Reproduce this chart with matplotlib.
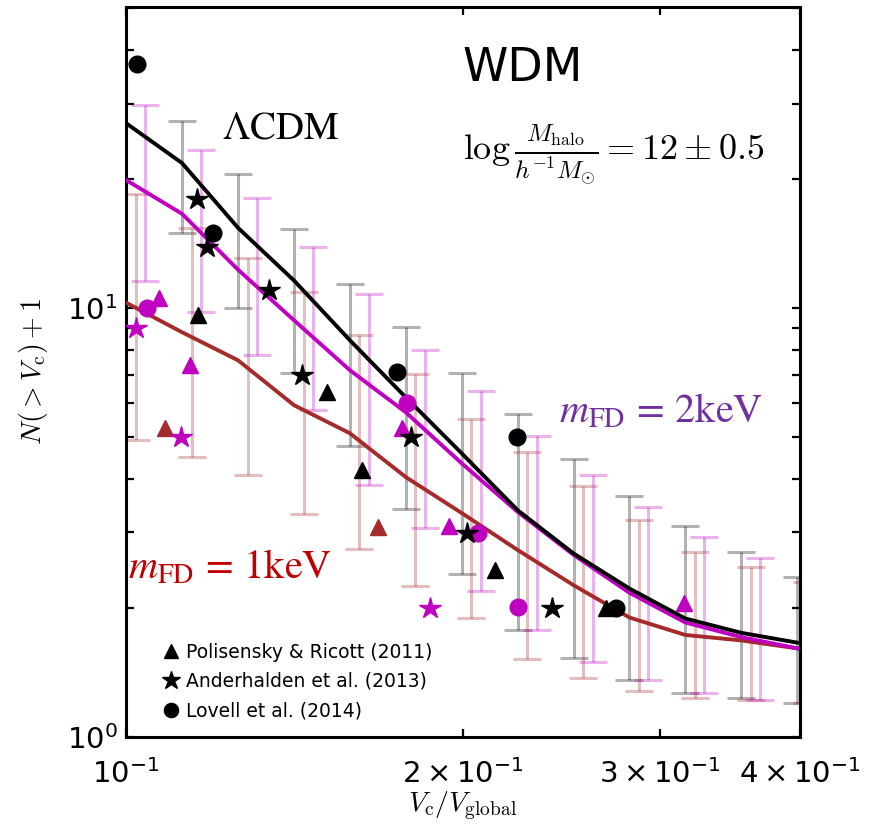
import numpy as np
import matplotlib
matplotlib.use('Agg')
import matplotlib.pyplot as plt
from matplotlib.ticker import FixedLocator, NullLocator, LogLocator, LogFormatterSciNotation

# bin centres in V_c / V_global (0.05 dex spacing)
vbins = [0.1, 0.1122, 0.1259, 0.1413, 0.1585, 0.1778, 0.1995,
         0.2239, 0.2512, 0.2818, 0.3162, 0.3548, 0.3981]

# median cumulative counts N(>V_c)+1
n_lcdm = [27.0, 21.8, 15.4, 11.6, 8.42, 6.2, 4.59, 3.38, 2.68, 2.22, 1.89, 1.75, 1.66]
n_2kev = [19.9, 16.6, 12.3, 9.37, 7.17, 5.72, 4.35, 3.35, 2.66, 2.17, 1.85, 1.71, 1.61]
n_1kev = [10.3, 8.79, 7.56, 5.94, 5.11, 4.04, 3.33, 2.73, 2.26, 1.90, 1.73, 1.68, 1.61]

# scatter ranges (upper, lower) per bin
lcdm_hi = [None, 27.4, 20.6, 15.3, 11.4, 9.03, 7.05, 5.66, 4.45, 3.65, 3.10, 2.70, 2.36]
lcdm_lo = [None, 15.0, 10.0, 7.05, 4.77, 3.40, 2.40, 1.78, 1.53, 1.36, 1.27, 1.23, 1.20]
kev2_hi = [29.7, 23.4, 18.1, 13.9, 10.8, 7.98, 6.40, 5.03, 4.08, 3.44, 2.93, 2.61, 2.30]
kev2_lo = [11.6, 9.79, 7.77, 5.78, 3.87, 3.07, 2.19, 1.78, 1.50, 1.36, 1.27, 1.22, 1.20]
kev1_hi = [18.5, 15.4, 13.1, 10.9, 8.65, 7.02, 5.51, 4.62, 3.85, 3.21, 2.70, 2.49, 2.30]
kev1_lo = [4.92, 4.49, 4.08, 3.31, 2.74, 2.25, 1.89, 1.52, 1.37, 1.28, 1.23, 1.22, 1.20]

# observed satellite counts: (x, y) per study and model colour
pol_black_x = [0.1160, 0.1513, 0.1626, 0.2139, 0.2684]
pol_black_y = [9.63, 6.37, 4.19, 2.45, 2.0]
and_black_x = [0.1157, 0.1182, 0.1343, 0.1437, 0.1799, 0.2019, 0.2405]
and_black_y = [18.0, 13.9, 11.0, 6.98, 5.0, 2.99, 2.0]
lov_black_x = [0.1023, 0.1196, 0.1745, 0.2234, 0.2739]
lov_black_y = [37.2, 14.96, 7.09, 5.0, 2.0]

pol_mag_x = [0.1070, 0.1141, 0.1766, 0.1945, 0.3151]
pol_mag_y = [10.55, 7.36, 5.25, 3.10, 2.05]
and_mag_x = [0.1021, 0.1120, 0.1871]
and_mag_y = [8.98, 5.0, 2.0]
lov_mag_x = [0.1044, 0.1781, 0.2065, 0.2242]
lov_mag_y = [10.0, 6.0, 2.99, 2.01]

pol_brown_x = [0.1084, 0.1681]
pol_brown_y = [5.25, 3.09]

MAG = '#c000c0'
BROWN = '#a52a2a'


def draw_range(ax, x, mid, hi, lo, shift, color):
    xs, ys, lower, upper = [], [], [], []
    for xv, m, h, l in zip(x, mid, hi, lo):
        if h is None:
            continue
        c = np.sqrt(h * l)
        xs.append(xv * shift)
        ys.append(c)
        lower.append(c - l)
        upper.append(h - c)
    ax.errorbar(xs, ys, yerr=[lower, upper], fmt='none', ecolor=color,
                alpha=0.3, elinewidth=2.2, capsize=10, capthick=2.2, zorder=1)


fig = plt.figure(figsize=(8.7, 8.3), dpi=100)
ax = fig.add_axes([0.145, 0.112, 0.774, 0.880])
ax.set_xscale('log')
ax.set_yscale('log')

draw_range(ax, vbins, n_lcdm, lcdm_hi, lcdm_lo, 1.0, 'black')
draw_range(ax, vbins, n_1kev, kev1_hi, kev1_lo, 1.02, BROWN)
draw_range(ax, vbins, n_2kev, kev2_hi, kev2_lo, 1.04, MAG)

ax.plot(vbins, n_1kev, color=BROWN, lw=2.8, zorder=3)
ax.plot(vbins, n_2kev, color=MAG, lw=2.8, zorder=3)
ax.plot(vbins, n_lcdm, color='black', lw=2.8, zorder=3)

ms = 12
ax.plot(pol_brown_x, pol_brown_y, '^', color=BROWN, ms=ms, ls='none', zorder=4)
ax.plot(pol_mag_x, pol_mag_y, '^', color=MAG, ms=ms, ls='none', zorder=4)
ax.plot(and_mag_x, and_mag_y, '*', color=MAG, ms=ms + 4, ls='none', zorder=4)
ax.plot(lov_mag_x, lov_mag_y, 'o', color=MAG, ms=ms, ls='none', zorder=4)
h1, = ax.plot(pol_black_x, pol_black_y, '^', color='black', ms=ms, ls='none', zorder=5)
h2, = ax.plot(and_black_x, and_black_y, '*', color='black', ms=ms + 4, ls='none', zorder=5)
h3, = ax.plot(lov_black_x, lov_black_y, 'o', color='black', ms=ms, ls='none', zorder=5)

ax.set_xlim(0.1, 0.4)
ax.set_ylim(1, 50.5)

ax.xaxis.set_major_locator(FixedLocator([0.1, 0.2, 0.3, 0.4]))
ax.xaxis.set_major_formatter(LogFormatterSciNotation(labelOnlyBase=False))
ax.xaxis.set_minor_locator(NullLocator())
ax.yaxis.set_major_locator(LogLocator(base=10))
ax.yaxis.set_minor_locator(LogLocator(base=10, subs=np.arange(2, 10)))
ax.tick_params(which='both', direction='in', top=True, right=True, width=1.6)
ax.tick_params(which='major', length=6, labelsize=21, pad=6)
ax.tick_params(axis='x', which='major', pad=16)
ax.tick_params(which='minor', length=6)
for s in ax.spines.values():
    s.set_linewidth(2.2)

ax.set_xlabel(r'$V_{\rm c}/V_{\rm global}$', fontsize=20, math_fontfamily='cm', labelpad=0)
ax.set_ylabel(r'$N(>V_{\rm c})+1$', fontsize=20, math_fontfamily='cm', labelpad=12)

ax.text(0.50, 0.915, 'WDM', transform=ax.transAxes, fontsize=33, ha='left', va='center')
ax.text(0.50, 0.797, r'$\log\frac{M_{\rm halo}}{h^{-1}M_{\odot}}=12\pm0.5$',
        transform=ax.transAxes, fontsize=26, math_fontfamily='cm', ha='left', va='center')
ax.text(0.143, 0.835, r'$\Lambda\mathrm{CDM}$', transform=ax.transAxes, fontsize=28,
        math_fontfamily='stix', ha='left', va='center')
ax.text(0.643, 0.445, r'$m_{\rm FD}\,=\,\mathrm{2keV}$', transform=ax.transAxes, fontsize=29,
        math_fontfamily='stix', color='#7030a0', ha='left', va='center')
ax.text(0.003, 0.232, r'$m_{\rm FD}\,=\,\mathrm{1keV}$', transform=ax.transAxes, fontsize=29,
        math_fontfamily='stix', color='#c00000', ha='left', va='center')

ax.legend([h1, h2, h3],
          ['Polisensky & Ricott (2011)', 'Anderhalden et al. (2013)', 'Lovell et al. (2014)'],
          loc='lower left', bbox_to_anchor=(0.03, 0.0), frameon=False, fontsize=13.5,
          handlelength=0.8, handletextpad=0.4, labelspacing=0.55, numpoints=1, markerscale=0.85)

fig.savefig('out.png', dpi=100)
